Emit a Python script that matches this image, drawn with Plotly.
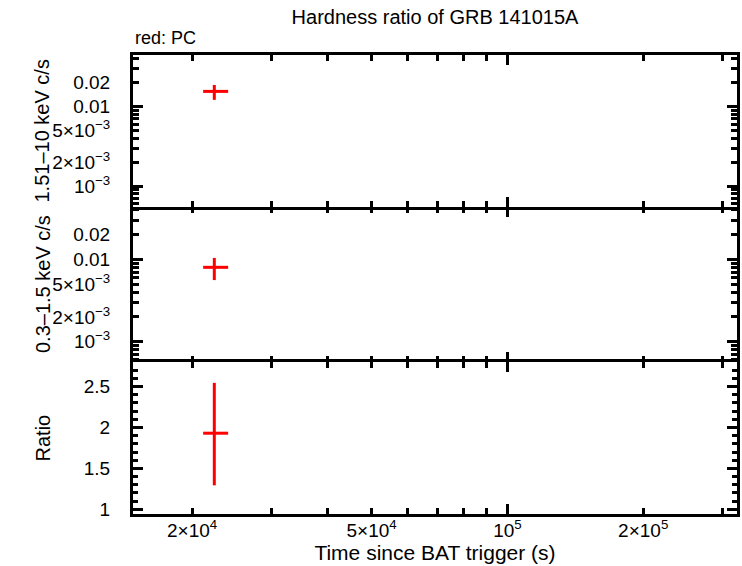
import plotly.graph_objects as go

# ---- data ----
t = [2.24e4]
t_lo = [1.24e3]
t_hi = [1.64e3]

hard = [0.0156]
hard_lo = [0.0034]
hard_hi = [0.0032]

soft = [0.0080]
soft_lo = [0.0024]
soft_hi = [0.0024]

ratio = [1.93]
ratio_lo = [0.637]
ratio_hi = [0.615]

# tick positions (labelled + unlabelled) and their texts
x_ticks = [2e4, 3e4, 4e4, 5e4, 6e4, 7e4, 8e4, 9e4, 1e5, 2e5, 3e5]
x_ticktext = ["2×10<sup>4</sup>", "", "", "5×10<sup>4</sup>", "", "", "", "",
              "10<sup>5</sup>", "2×10<sup>5</sup>", ""]
x_long = [1e5]

rate_ticks = [6e-4, 7e-4, 8e-4, 9e-4, 1e-3, 2e-3, 3e-3, 4e-3, 5e-3, 6e-3, 7e-3,
              8e-3, 9e-3, 1e-2, 2e-2, 3e-2, 4e-2]
rate_ticktext = ["", "", "", "", "10<sup>−3</sup>", "2×10<sup>−3</sup>", "", "",
                 "5×10<sup>−3</sup>", "", "", "", "", "0.01", "0.02", "", ""]
rate_long = [1e-3, 1e-2]

ratio_ticks = [1, 1.5, 2, 2.5]
ratio_ticktext = ["1", "1.5", "2", "2.5"]

FONT = "Liberation Sans"
RED = "#ff0000"
X_RANGE = [4.170, 5.509]
Y1_RANGE = [-3.265, -1.348]
Y2_RANGE = [-3.246, -1.365]
Y3_RANGE = [0.943, 2.80]

fig = go.Figure()

def add_pt(x, y, ylo, yhi, xa, ya):
    fig.add_trace(go.Scatter(
        x=x, y=y, mode="markers", xaxis=xa, yaxis=ya,
        marker=dict(size=1, color="rgba(0,0,0,0)"),
        error_x=dict(type="data", symmetric=False, array=t_hi, arrayminus=t_lo,
                     color=RED, thickness=3, width=0),
        error_y=dict(type="data", symmetric=False, array=yhi, arrayminus=ylo,
                     color=RED, thickness=3, width=0),
        showlegend=False, hoverinfo="skip"))

add_pt(t, hard, hard_lo, hard_hi, "x", "y")
add_pt(t, soft, soft_lo, soft_hi, "x2", "y2")
add_pt(t, ratio, ratio_lo, ratio_hi, "x3", "y3")

tickfont = dict(family=FONT, size=19, color="black")
common = dict(showgrid=False, zeroline=False, showline=True, linecolor="black",
              linewidth=3, mirror="ticks", ticks="inside", tickcolor="black",
              tickwidth=2.5, automargin=False)

doms = [[0.6688, 1.0], [0.3312, 0.6688], [0.0, 0.3312]]
yranges = [Y1_RANGE, Y2_RANGE, Y3_RANGE]

layout = dict(
    width=742, height=566,
    margin=dict(l=133, r=5, t=55, b=52),
    paper_bgcolor="white", plot_bgcolor="white",
    font=dict(family=FONT, size=19, color="black"),
    title=dict(text="Hardness ratio of GRB 141015A", x=0.5, xref="paper",
               xanchor="center", y=1 - 16.5 / 566, yref="container",
               yanchor="middle", font=dict(family=FONT, size=20, color="black")),
)

for i in range(3):
    xs = "" if i == 0 else str(i + 1)
    ys = "" if i == 0 else str(i + 1)
    xax = dict(
        common, type="log", range=X_RANGE, anchor="y" + ys,
        tickmode="array", tickvals=x_ticks, ticktext=x_ticktext, ticklen=6,
        showticklabels=(i == 2), tickfont=tickfont, ticklabelstandoff=-3)
    if i == 1:
        # the middle panel's frame edges are drawn by its neighbours' axes;
        # this axis only adds the inward ticks
        xax.update(showline=False)
    layout["xaxis" + xs] = xax
    if i < 2:
        yax = dict(common, type="log", range=yranges[i], domain=doms[i],
                   anchor="x" + xs, tickmode="array", tickvals=rate_ticks,
                   ticktext=rate_ticktext, ticklen=6, tickfont=tickfont,
                   ticklabelstandoff=16)
    else:
        yax = dict(common, type="linear", range=yranges[i], domain=doms[i],
                   anchor="x" + xs, tickmode="array", tickvals=ratio_ticks,
                   ticktext=ratio_ticktext, ticklen=10, tickfont=tickfont,
                   ticklabelstandoff=16,
                   minor=dict(dtick=0.1, tick0=0, ticklen=5, tickwidth=2.5,
                              tickcolor="black", ticks="inside", showgrid=False))
    layout["yaxis" + ys] = yax

layout["xaxis3"]["title"] = dict(text="Time since BAT trigger (s)",
                                 font=dict(family=FONT, size=21), standoff=4)

# overlay axes that only carry the longer decade ticks
long_common = dict(showgrid=False, zeroline=False, showline=False,
                   mirror="ticks", ticks="inside", tickmode="array",
                   tickwidth=2.5, tickcolor="black", ticklen=10,
                   showticklabels=False, automargin=False)
for i in range(3):
    base = "" if i == 0 else str(i + 1)
    layout["xaxis" + str(i + 4)] = dict(long_common, type="log", range=X_RANGE,
                                        overlaying="x" + base, anchor="y" + base,
                                        tickvals=x_long)
for i in range(2):
    base = "" if i == 0 else str(i + 1)
    layout["yaxis" + str(i + 4)] = dict(long_common, type="log", range=yranges[i],
                                        overlaying="y" + base, anchor="x" + base,
                                        tickvals=rate_long)

fig.update_layout(**layout)

for i in range(3):
    fig.add_trace(go.Scatter(x=[], y=[], xaxis="x" + str(i + 4),
                             yaxis=("y" if i == 0 else "y" + str(i + 1)),
                             showlegend=False, hoverinfo="skip"))
for i in range(2):
    fig.add_trace(go.Scatter(x=[], y=[], xaxis=("x" if i == 0 else "x" + str(i + 1)),
                             yaxis="y" + str(i + 4),
                             showlegend=False, hoverinfo="skip"))

ytitles = ["1.51–10 keV c/s", "0.3–1.5 keV c/s", "Ratio"]
annotations = []
for i in range(3):
    annotations.append(dict(text=ytitles[i], xref="paper", yref="paper",
                            x=(42.5 - 133) / 604, xanchor="center",
                            y=(doms[i][0] + doms[i][1]) / 2, yanchor="middle",
                            textangle=-90, showarrow=False,
                            font=dict(family=FONT, size=20, color="black")))
annotations.append(dict(text="red: PC", xref="paper", yref="paper", x=0,
                        xanchor="left", y=(514 - 38.5) / 459, yanchor="middle",
                        showarrow=False, font=dict(family=FONT, size=18, color="black")))
fig.update_layout(annotations=annotations)

fig.write_html("out.html", config={"displayModeBar": False},
               post_script="document.body.style.margin='0';document.body.style.padding='0';")
